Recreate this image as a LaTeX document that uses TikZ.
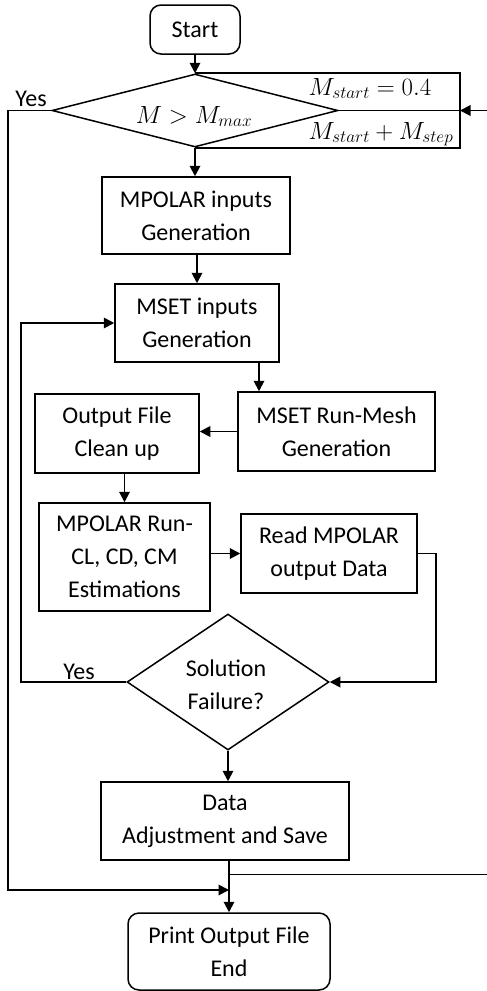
\documentclass[tikz,border=0pt]{standalone}
\usepackage{fontspec}
\setmainfont{Carlito}
\usetikzlibrary{shapes.geometric,arrows.meta,calc}
\begin{document}
\begin{tikzpicture}[x=1pt,y=-1pt,
  box/.style={draw,line width=1.5pt,inner sep=0pt,align=center,font=\fontsize{24}{33}\selectfont},
  term/.style={box,rounded corners=11pt},
  dia/.style={draw,diamond,line width=1.5pt,inner sep=0pt},
  txt/.style={inner sep=0pt,align=center,font=\fontsize{24}{33}\selectfont},
  mth/.style={inner sep=0pt,anchor=base,font=\fontsize{24.5}{28}\selectfont},
  arr/.style={line width=1.9pt,-{Triangle[length=10.5pt,width=10.5pt]}},
  ln/.style={line width=1.8pt},
  thinln/.style={line width=1pt},
]
\useasboundingbox (0,0) rectangle (487,991);
% nodes
\node[term,minimum width=90pt,minimum height=49pt] (start) at (195,29.5) {Start};
\node[dia,minimum width=286pt,minimum height=73pt] (d1) at (195,110.5) {};
\node[mth] (d1t) at (194,123) {$M > M_{max}$};
\node[box,minimum width=188pt,minimum height=77pt] (mpi) at (196,215.5) {MPOLAR inputs\\Generation};
\node[box,minimum width=164pt,minimum height=78pt] (msi) at (197,323) {MSET inputs\\Generation};
\node[box,minimum width=197pt,minimum height=79pt] (run) at (336.5,431.5) {MSET Run-Mesh\\Generation};
\node[box,minimum width=164pt,minimum height=79pt] (ofc) at (117,433.5) {Output File\\Clean up};
\node[box,minimum width=171pt,minimum height=108pt] (mpr) at (124.5,557) {MPOLAR Run-\\CL, CD, CM\\Estimations};
\node[box,minimum width=176pt,minimum height=79pt] (rd) at (329,553.5) {Read MPOLAR\\output Data};
\node[dia,minimum width=202pt,minimum height=136pt] (d2) at (228,682) {};
\node[txt] (d2t) at (226,685) {Solution\\Failure?};
\node[box,minimum width=248pt,minimum height=78pt] (data) at (225,821) {Data\\Adjustment and Save};
\node[term,minimum width=202pt,minimum height=77pt] (end) at (229,951.5) {Print Output File\\End};
% labels
\node[txt,anchor=base] (yes1) at (31,106) {Yes};
\node[txt,anchor=base] (yes2) at (79,679) {Yes};
\node[mth] (ms1) at (370,95) {$M_{start} = 0.4$};
\node[mth] (ms2) at (381,139) {$M_{start} + M_{step}$};
% coordinates
\coordinate (lp) at (460,110.5);
\coordinate (inr) at (487,110.5);
\coordinate (j1) at (229,890);
\coordinate (j2) at (228,874);
\coordinate (rimg) at (487,874);
% connectors
\draw[arr] (start.south) -- (d1.north);
\draw[ln] (d1.north) -- (lp |- d1.north) -- (lp |- d1.south) -- (d1.south);
\draw[arr] (inr) -- (lp);
\draw[ln] (lp) -- (d1.east);
\draw[arr] (d1.south) -- (d1.south |- mpi.north);
\draw[arr] ([xshift=1pt]mpi.south) -- ([xshift=1pt]mpi.south |- msi.north);
\draw[arr] ([xshift=62pt]msi.south) -- ([xshift=62pt]msi.south |- run.north);
\draw[arr] (run.west) -- (run.west -| ofc.east);
\draw[arr] (mpr.north |- ofc.south) -- (mpr.north);
\draw[arr] (rd.west -| mpr.east) -- (rd.west);
\draw[arr] (rd.east) -- ++(18,0) |- (d2.east);
\draw[arr] (d2.west) -- ++(-105,0) |- (msi.west);
\draw[arr] (d2.south) -- (d2.south |- data.north);
\draw[arr] ([xshift=4pt]data.south) -- ([xshift=4pt]data.south |- end.north);
\draw[arr] (d1.west) -- ++(-43,0) |- (j1);
\draw[thinln] (j2) -- (rimg);
\end{tikzpicture}
\end{document}
